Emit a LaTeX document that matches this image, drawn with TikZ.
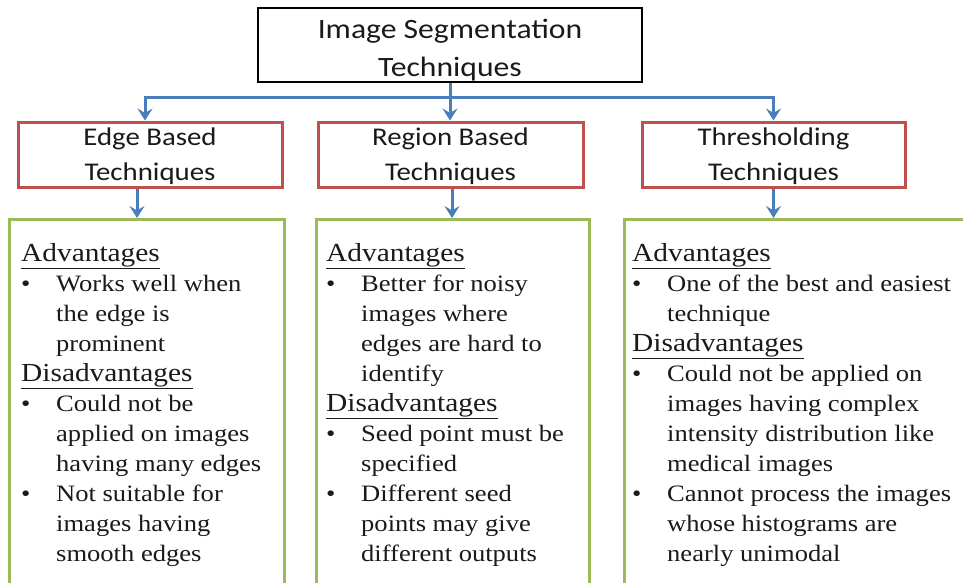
\documentclass[tikz,border=0pt]{standalone}
\usepackage{fontspec}
\usetikzlibrary{arrows.meta}
\newfontfamily\boxfont[FakeStretch=1.13]{Carlito}
\newfontfamily\serfont[FakeStretch=1.13]{Liberation Serif}
\definecolor{offblue}{HTML}{4A7EBB}
\definecolor{offred}{HTML}{C0504D}
\definecolor{offgreen}{HTML}{9BBB59}
\definecolor{txt}{HTML}{1A1A1A}
\newcommand\hdsize{\fontsize{26}{30}\selectfont}
\newcommand\itsize{\fontsize{23.5}{30}\selectfont}
\newcommand\hdr[1]{\noindent{\hdsize\underline{#1}}\par}
\newcommand\itm[1]{\hangindent=35pt\hangafter=1\noindent\makebox[35pt][l]{\textbullet}#1\par}
\tikzset{
  topbox/.style={draw=black, line width=2.5pt, minimum width=384pt, minimum height=74pt, inner sep=0pt, align=center, text=txt, font=\boxfont\fontsize{28}{38.5}\selectfont},
  techbox/.style={draw=offred, line width=3pt, minimum height=65pt, inner sep=0pt, align=center, text=txt, font=\boxfont\fontsize{25.5}{35}\selectfont},
  infobox/.style={draw=offgreen, line width=2.5pt, minimum height=420pt, inner sep=0pt, anchor=north west},
  infotext/.style={inner sep=0pt, anchor=north west, text=txt},
  arr/.style={draw=offblue, line width=3pt, -{Stealth[length=12pt,width=15pt,inset=4.5pt]}},
  bus/.style={draw=offblue, line width=3pt}
}
\begin{document}
\begin{tikzpicture}[x=1pt,y=-1pt]
\useasboundingbox (0,0) rectangle (963,582);
\clip (0,0) rectangle (963,582);
\fill[white] (0,0) rectangle (963,582);

\node[topbox] (top) at (450,45) {\rule{0pt}{30pt}Image Segmentation\\Techniques};

\node[techbox, minimum width=264pt] (edge) at (150,154.5) {\rule{0pt}{22pt}Edge Based\\Techniques};
\node[techbox, minimum width=265pt] (region) at (450.5,154.5) {\rule{0pt}{22pt}Region Based\\Techniques};
\node[techbox, minimum width=263pt] (thresh) at (773.5,154.5) {\rule{0pt}{22pt}Thresholding\\Techniques};

\node[infobox, minimum width=275pt] (edgeg) at (8,218) {};
\node[infobox, minimum width=273pt] (regiong) at (315,218) {};
\node[infobox, minimum width=420pt] (threshg) at (623,218) {};

\coordinate (busL) at (145,97.5);

\draw[bus] (top.south) -- (top.south |- busL);
\draw[arr] (top.south |- busL) -| ([xshift=-5pt]edge.north);
\draw[arr] (top.south |- busL) -| (thresh.north);
\draw[arr] (top.south) -- (top.south |- region.north);

\draw[arr] ([xshift=-13pt]edge.south) -- ([xshift=-13pt]edge.south |- edgeg.north);
\draw[arr] ([xshift=1.5pt]region.south) -- ([xshift=1.5pt]region.south |- regiong.north);
\draw[arr] (thresh.south) -- (thresh.south |- threshg.north);

\node[infotext] (edget) at ([xshift=13pt,yshift=-25pt]edgeg.north west) {%
\begin{minipage}[t]{330pt}\serfont\itsize
\hdr{Advantages}
\itm{Works well when\newline the edge is\newline prominent}
\hdr{Disadvantages}
\itm{Could not be\newline applied on images\newline having many edges}
\itm{Not suitable for\newline images having\newline smooth edges}
\end{minipage}};

\node[infotext] (regiont) at ([xshift=11pt,yshift=-25pt]regiong.north west) {%
\begin{minipage}[t]{330pt}\serfont\itsize
\hdr{Advantages}
\itm{Better for noisy\newline images where\newline edges are hard to\newline identify}
\hdr{Disadvantages}
\itm{Seed point must be\newline specified}
\itm{Different seed\newline points may give\newline different outputs}
\end{minipage}};

\node[infotext] (thresht) at ([xshift=9pt,yshift=-25pt]threshg.north west) {%
\begin{minipage}[t]{330pt}\serfont\itsize
\hdr{Advantages}
\itm{One of the best and easiest\newline technique}
\hdr{Disadvantages}
\itm{Could not be applied on\newline images having complex\newline intensity distribution like\newline medical images}
\itm{Cannot process the images\newline whose histograms are\newline nearly unimodal}
\end{minipage}};
\end{tikzpicture}
\end{document}
